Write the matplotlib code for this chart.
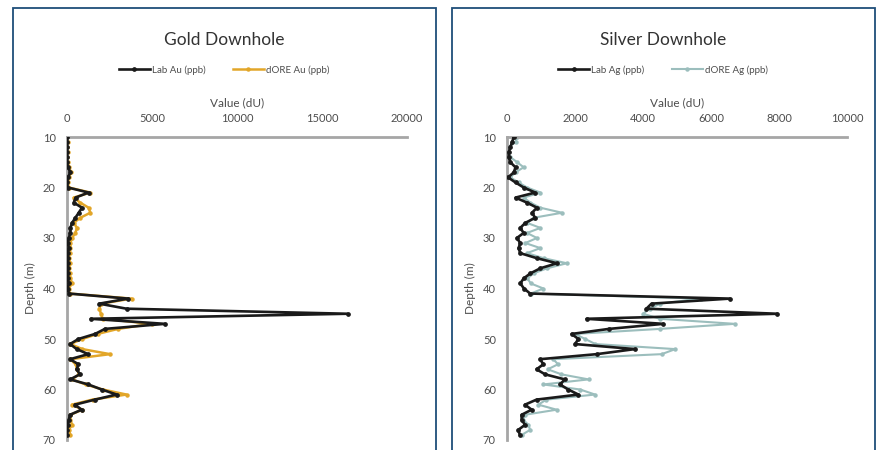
import matplotlib
matplotlib.use("Agg")
import matplotlib.pyplot as plt
from matplotlib.patches import Rectangle

plt.rcParams['font.family'] = ['Lato', 'DejaVu Sans']

depth = list(range(10, 70))

lab_au = [0, 0, 0, 0, 0, 0, 50, 200, 50, 0,
          50, 1270, 500, 400, 880, 690, 490, 300, 200, 200,
          100, 50, 100, 50, 50, 50, 50, 50, 50, 100,
          50, 100, 3600, 1900, 3500, 16500, 1400, 5760, 2230, 1650,
          670, 180, 570, 1250, 180, 670, 570, 760, 180, 1250,
          2040, 2920, 1650, 470, 860, 180, 100, 50, 0, 0]
dore_au = [0, 50, 0, 50, 0, 50, 100, 250, 100, 50,
           100, 1370, 390, 780, 1270, 1370, 780, 390, 590, 490,
           290, 200, 200, 150, 100, 200, 100, 150, 200, 300,
           100, 150, 3800, 2000, 1900, 2000, 2100, 4980, 3000, 1800,
           900, 200, 900, 2530, 200, 500, 600, 700, 300, 1100,
           2100, 3500, 1500, 300, 900, 200, 200, 300, 100, 200]

lab_ag = [200, 150, 100, 50, 50, 100, 250, 200, 30, 250,
          490, 830, 250, 590, 880, 735, 830, 540, 390, 490,
          290, 390, 340, 390, 880, 1470, 980, 690, 490, 390,
          500, 680, 6550, 4250, 4100, 7950, 2340, 4600, 3000, 1900,
          2100, 2000, 3760, 2640, 970, 1070, 870, 1120, 1700, 1560,
          1800, 2100, 870, 530, 725, 430, 430, 530, 330, 380]
dore_ag = [300, 250, 50, 30, 100, 300, 490, 250, 100, 340,
           590, 980, 490, 690, 980, 1620, 780, 590, 980, 590,
           880, 540, 980, 590, 1080, 1760, 1180, 780, 600, 700,
           1070, 700, 5700, 4500, 4200, 4000, 4500, 6700, 4500, 2000,
           2300, 2600, 4950, 4550, 1360, 1500, 1200, 1600, 2400, 1070,
           2150, 2590, 1160, 920, 1460, 530, 480, 630, 680, 430]

panels = [
    dict(title="Gold Downhole", lab=lab_au, dore=dore_au,
         lab_name="Lab Au (ppb)", dore_name="dORE Au (ppb)",
         dcolor="#E2A629", dlw=1.8, xmax=20000, xticks=[0, 5000, 10000, 15000, 20000],
         box_left=13, ax_left=67),
    dict(title="Silver Downhole", lab=lab_ag, dore=dore_ag,
         lab_name="Lab Ag (ppb)", dore_name="dORE Ag (ppb)",
         dcolor="#9CBEBD", dlw=1.5, xmax=10000, xticks=[0, 2000, 4000, 6000, 8000, 10000],
         box_left=452, ax_left=507),
]

W, H = 880, 450
fig = plt.figure(figsize=(W / 100, H / 100), dpi=100)
fig.patch.set_facecolor("white")

gray = "#4D4D4D"
for p in panels:
    fig.patches.append(Rectangle((p["box_left"] / W, -0.05), 423 / W, (H - 8) / H + 0.05,
                                 transform=fig.transFigure, fill=False,
                                 edgecolor="#1F4E79", linewidth=1.3))
    ax = fig.add_axes([p["ax_left"] / W, (H - 440) / H, 340 / W, 303 / H])
    l1, = ax.plot(p["lab"], depth, color="#1A1A1A", lw=1.9, marker="o", ms=2.4,
                  label=p["lab_name"], zorder=3)
    l2, = ax.plot(p["dore"], depth, color=p["dcolor"], lw=p["dlw"], marker="o", ms=2.2,
                  label=p["dore_name"], zorder=2)
    ax.set_xlim(0, p["xmax"])
    ax.set_ylim(70, 10)
    ax.set_xticks(p["xticks"])
    ax.set_yticks([10, 20, 30, 40, 50, 60, 70])
    ax.xaxis.tick_top()
    ax.xaxis.set_label_position("top")
    ax.tick_params(length=0, labelsize=8, labelcolor=gray, pad=9)
    ax.tick_params(axis="y", pad=8)
    ax.set_xlabel("Value (dU)", fontsize=8.5, color=gray, labelpad=5)
    ax.set_ylabel("Depth (m)", fontsize=8.5, color=gray, labelpad=5)
    for s in ["right", "bottom"]:
        ax.spines[s].set_visible(False)
    for s in ["top", "left"]:
        ax.spines[s].set_color("#A6A6A6")
        ax.spines[s].set_linewidth(2.0)
    cx = (p["box_left"] + 211) / W
    fig.text(cx, 1 - 40 / H, p["title"], ha="center", va="center",
             fontsize=12.5, color="#333333")
    fig.legend(handles=[l1, l2], loc="center", bbox_to_anchor=(cx, 1 - 70 / H),
               ncol=2, frameon=False, fontsize=7, labelcolor=gray,
               handlelength=3.2, columnspacing=2.8, handletextpad=0.2)

fig.savefig("out.png", dpi=100, facecolor="white")
